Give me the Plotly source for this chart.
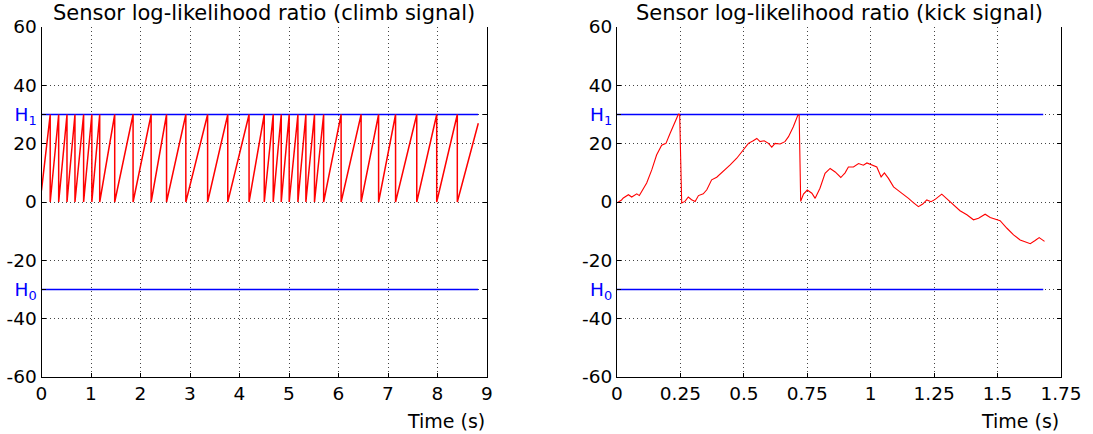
import plotly.graph_objects as go
from plotly.subplots import make_subplots

# --- climb signal: log-likelihood ramps that reset to 0 after hitting H1 ---
climb_start_value = 4.0
climb_reset_times = [0.176, 0.347, 0.515, 0.676, 0.851, 1.017, 1.176, 1.479,
                     1.850, 2.215, 2.526, 2.916, 3.356, 3.763, 4.193, 4.500,
                     4.681, 4.843, 5.004, 5.180, 5.341, 5.515, 5.700, 6.053,
                     6.457, 6.810, 7.153, 7.581, 7.984, 8.400]
climb_end_time = 8.824
climb_end_value = 27.0

# --- kick signal: log-likelihood trace ---
kick_t = [0.000, 0.018, 0.025, 0.045, 0.058, 0.078, 0.088, 0.117, 0.137, 0.156,
          0.176, 0.193, 0.209, 0.229, 0.242, 0.247, 0.250, 0.255, 0.268, 0.281,
          0.294, 0.308, 0.321, 0.340, 0.354, 0.373, 0.393, 0.419, 0.446, 0.472,
          0.498, 0.518, 0.537, 0.551, 0.564, 0.580, 0.597, 0.610, 0.623, 0.643,
          0.662, 0.676, 0.695, 0.713, 0.718, 0.721, 0.724, 0.735, 0.750, 0.768,
          0.781, 0.800, 0.820, 0.840, 0.860, 0.882, 0.899, 0.912, 0.932, 0.952,
          0.971, 0.985, 1.004, 1.024, 1.041, 1.054, 1.070, 1.090, 1.109, 1.129,
          1.149, 1.168, 1.188, 1.205, 1.221, 1.238, 1.254, 1.280, 1.306, 1.326,
          1.352, 1.379, 1.405, 1.425, 1.451, 1.471, 1.491, 1.510, 1.537, 1.563,
          1.589, 1.629, 1.648, 1.664, 1.685]
kick_llr = [-0.3, 0.7, 1.4, 2.5, 1.7, 2.8, 2.2, 6.5, 11.0, 16.1,
            19.5, 20.1, 23.5, 27.5, 30.1, 30.0, 15.0, -0.3, 0.2, 1.7,
            0.8, 0.2, 2.2, 2.8, 4.2, 7.6, 8.5, 10.5, 12.7, 15.0,
            17.8, 20.1, 21.0, 21.8, 20.7, 21.0, 20.1, 18.8, 20.1, 19.9,
            20.7, 22.4, 25.8, 29.8, 29.8, 15.0, 0.2, 2.7, 4.1, 3.0,
            1.25, 4.7, 9.8, 11.5, 10.3, 8.4, 10.0, 12.0, 12.0, 13.2,
            12.6, 13.4, 12.6, 12.0, 8.6, 10.0, 8.1, 5.2, 3.9, 2.7,
            1.25, -0.2, -1.6, -0.7, 0.7, 0.1, 0.9, 2.7, 0.7, -1.0,
            -3.0, -4.4, -6.1, -5.6, -4.2, -5.3, -5.9, -6.4, -9.0, -11.3,
            -13.0, -14.3, -13.2, -12.2, -13.5]

# decision thresholds and how far each threshold line is drawn
h1_level = 30
h0_level = -30
climb_threshold_end = 8.82
kick_threshold_end = 1.68

y_ticks = [-60, -40, -30, -20, 0, 20, 30, 40, 60]
y_tick_text = ["-60", "-40", "<span style='color:#0000ff'>H<sub>0</sub></span>",
               "-20", "0", "20", "<span style='color:#0000ff'>H<sub>1</sub></span>",
               "40", "60"]

titles = ["Sensor log-likelihood ratio (climb signal)",
          "Sensor log-likelihood ratio (kick signal)"]
x_label = "Time (s)"

# build the climb sawtooth from its reset instants
climb_x = [0.0]
climb_y = [climb_start_value]
for t in climb_reset_times:
    climb_x += [t, t]
    climb_y += [h1_level, 0.0]
climb_x.append(climb_end_time)
climb_y.append(climb_end_value)

FONT = "DejaVu Sans"
RED = "#ff0000"
BLUE = "#0000ff"

fig = make_subplots(rows=1, cols=2)

for col, t_end in ((1, climb_threshold_end), (2, kick_threshold_end)):
    for lvl in (h1_level, h0_level):
        fig.add_trace(go.Scatter(x=[0, t_end], y=[lvl, lvl], mode="lines",
                                 line=dict(color=BLUE, width=1.3),
                                 hoverinfo="skip", showlegend=False),
                      row=1, col=col)

fig.add_trace(go.Scatter(x=climb_x, y=climb_y, mode="lines",
                         line=dict(color=RED, width=1.5), showlegend=False),
              row=1, col=1)
fig.add_trace(go.Scatter(x=kick_t, y=kick_llr, mode="lines",
                         line=dict(color=RED, width=1.1), showlegend=False),
              row=1, col=2)

y_bot, y_top = 57 / 434, 407 / 434
x_doms = [(41.5 / 1093, 487 / 1093), (617 / 1093, 1061 / 1093)]

axis_common = dict(
    automargin=False,
    showline=True, linecolor="black", linewidth=1.2,
    ticks="inside", ticklen=4, tickcolor="black",
    showgrid=True, gridcolor="#444444", gridwidth=1, griddash="1px,3px",
    zeroline=False,
    tickfont=dict(family=FONT, size=18.5, color="black"),
)

fig.update_xaxes(axis_common)
fig.update_yaxes(axis_common)

fig.update_xaxes(row=1, col=1, domain=list(x_doms[0]), range=[0, 9],
                 tickmode="linear", tick0=0, dtick=1)
fig.update_xaxes(row=1, col=2, domain=list(x_doms[1]), range=[0, 1.75],
                 tickmode="array", tickvals=[0, 0.25, 0.5, 0.75, 1, 1.25, 1.5, 1.75],
                 ticktext=["0", "0.25", "0.5", "0.75", "1", "1.25", "1.5", "1.75"])
fig.update_yaxes(domain=[y_bot, y_top], range=[-60, 60], mirror="ticks",
                 tickmode="array", tickvals=y_ticks, ticktext=y_tick_text)

annotations = []
for (x0, x1), title in zip(x_doms, titles):
    annotations.append(dict(text=title, x=(x0 + x1) / 2, y=1 - 13 / 434,
                            xref="paper", yref="paper", xanchor="center",
                            yanchor="middle", showarrow=False,
                            font=dict(family=FONT, size=21, color="black")))
    annotations.append(dict(text=x_label, x=x1, y=1 - 421 / 434,
                            xref="paper", yref="paper", xanchor="right",
                            yanchor="middle", showarrow=False,
                            font=dict(family=FONT, size=19, color="black")))

fig.update_layout(
    width=1093, height=434,
    margin=dict(l=0, r=0, t=0, b=0),
    paper_bgcolor="white", plot_bgcolor="white",
    annotations=annotations,
    showlegend=False,
)

fig.write_html("out.html")
